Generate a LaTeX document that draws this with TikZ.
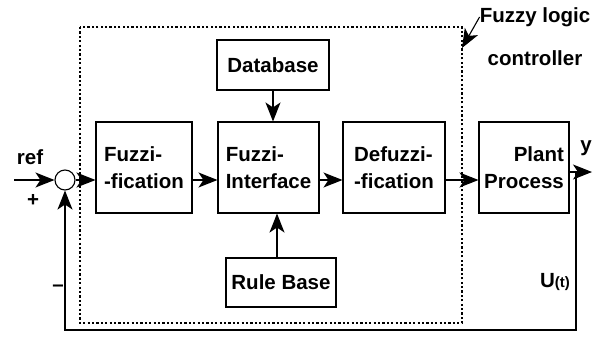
\documentclass[tikz,border=0pt]{standalone}
\usepackage{fontspec}
\setmainfont{Liberation Sans}
\usetikzlibrary{arrows.meta,positioning,calc}

\tikzset{
  blk/.style={draw, line width=1.1pt, rectangle, inner sep=0pt, align=left,
              font=\bfseries\fontsize{20.5}{27}\selectfont},
  lbl/.style={inner sep=0pt, font=\bfseries\fontsize{20.5}{24}\selectfont},
  arr/.style={line width=1.1pt, -{Stealth[length=19pt,width=15pt,inset=5pt]}},
  frame/.style={line width=1.1pt, dash pattern=on 2.2pt off 2.2pt}
}

\begin{document}
\begin{tikzpicture}[x=1pt, y=-1pt]
    \useasboundingbox (0,0) rectangle (593,340);
    % controller frame
    \draw[frame] (80,27) rectangle (462,323);

    % blocks
    \node[blk, minimum width=96pt, minimum height=91pt] (fuzz) at (144,167.5) {Fuzzi-\\-fication};
    \node[blk, minimum width=101pt, minimum height=91pt] (intf) at (268.5,167.5) {Fuzzi-\\Interface};
    \node[blk, minimum width=102pt, minimum height=91pt] (defz) at (394,167.5) {Defuzzi-\\-fication};
    \node[blk, align=right, minimum width=90pt, minimum height=91pt] (plant) at (524,167.5) {\hspace*{24pt}Plant\\Process};
    \node[blk, minimum width=112pt, minimum height=50pt] (db) at (273,65) {Database};
    \node[blk, minimum width=110pt, minimum height=49pt] (rule) at (281,282.5) {Rule Base};

    % summing point
    \node[draw, circle, line width=1.1pt, minimum size=20pt, inner sep=0pt] (sum) at (65,180) {};
    \coordinate (in) at (14,180);
    \coordinate (out) at (592,172);
    \coordinate (fb) at (576,172);
    \coordinate (tag) at (462,48);

    % labels
    \node[lbl] (ref) at (30,157) {ref};
    \node[lbl] (plus) at (33,200) {+};
    \node[lbl] (minus) at (58,288) {\textendash};
    \node[lbl] (yout) at (586,148) {y};
    \node[lbl] (ut) at (555,282) {U{\fontsize{15}{18}\selectfont(t)}};
    \node[lbl] (flc1) at (535,17) {Fuzzy logic};
    \node[lbl] (flc2) at (535,58) {controller};

    % connectors
    \draw[arr] (in) -- (sum.west);
    \draw[arr] (sum.east) -- (fuzz.west |- sum);
    \draw[arr] (fuzz.east |- sum) -- (intf.west |- sum);
    \draw[arr] (intf.east |- sum) -- (defz.west |- sum);
    \draw[arr] (defz.east |- sum) -- (plant.west |- sum);
    \draw[arr] (db.south) -- (db.south |- intf.north);
    \draw[arr] ([xshift=-4pt]rule.north) -- ([xshift=-4pt]rule.north |- intf.south);
    \draw[arr] (plant.east |- out) -- (out);
    \draw[arr] (fb) -- ++(0,158) -| (sum.south);
    \draw[arr] (flc1.west) -- (tag);
\end{tikzpicture}
\end{document}
